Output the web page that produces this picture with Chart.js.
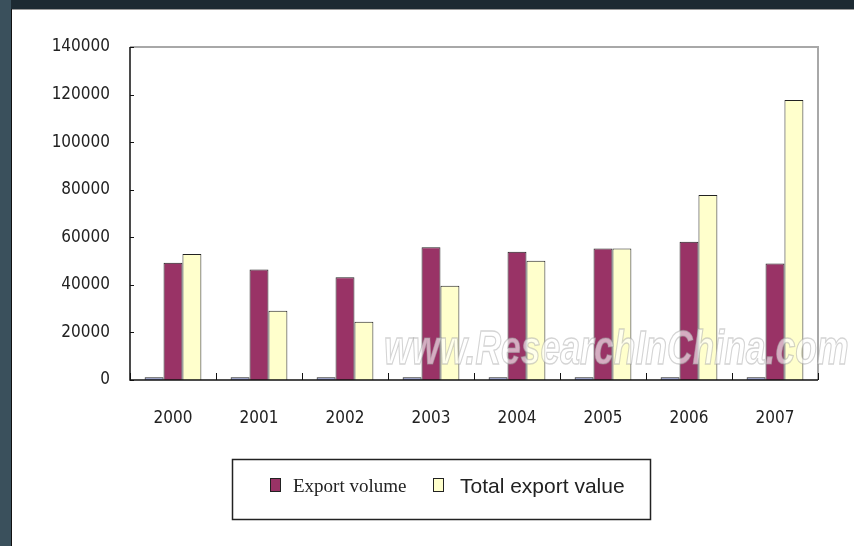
<!DOCTYPE html>
<html>
<head>
<meta charset="utf-8">
<script src="https://cdn.jsdelivr.net/npm/chart.js@4/dist/chart.umd.min.js"></script>
<style>
  html, body { margin: 0; padding: 0; background: #ffffff; }
  #wrap { position: relative; width: 854px; height: 546px; }
  canvas { display: block; }
</style>
</head>
<body>
<div id="wrap"><canvas id="c" width="854" height="546"></canvas></div>
<script>
// ---- data ----
const categories = ['2000', '2001', '2002', '2003', '2004', '2005', '2006', '2007'];
const minorSeries = [1200, 1200, 1200, 1200, 1200, 1200, 1200, 1200];
const exportVolume = [49300, 46500, 43200, 55800, 53900, 55300, 58100, 49000];
const totalExportValue = [53000, 29100, 24500, 39600, 50100, 55300, 77800, 117700];
const yTicks = [0, 20000, 40000, 60000, 80000, 100000, 120000, 140000];
const seriesNames = ['', 'Export volume', 'Total export value'];

const NARROW = '"DejaVu Sans Condensed", "Liberation Sans", sans-serif';

const framePlugin = {
  id: 'frame',
  beforeDraw(chart) {
    const ctx = chart.ctx;
    ctx.save();
    ctx.fillStyle = '#1d2a32';
    ctx.fillRect(0, 0, chart.width, 9);
    ctx.fillStyle = '#3a505c';
    ctx.fillRect(0, 0, 11, chart.height);
    ctx.fillStyle = '#111';
    ctx.fillRect(11, 9, 1, chart.height - 9);
    ctx.fillStyle = '#9a9a9a';
    ctx.fillRect(12, 9, chart.width - 12, 1);
    ctx.restore();
  },
  afterDatasetsDraw(chart) {
    const ctx = chart.ctx;
    const a = chart.chartArea;
    const x = chart.scales.x, y = chart.scales.y;
    ctx.save();
    // plot frame (top & right grey)
    ctx.strokeStyle = '#a8a8a8';
    ctx.lineWidth = 2;
    ctx.beginPath();
    ctx.moveTo(a.left, a.top);
    ctx.lineTo(a.right, a.top);
    ctx.lineTo(a.right, a.bottom);
    ctx.stroke();
    // axes (black)
    ctx.strokeStyle = '#111';
    ctx.lineWidth = 1.5;
    ctx.beginPath();
    ctx.moveTo(a.left, a.top);
    ctx.lineTo(a.left, a.bottom);
    ctx.lineTo(a.right, a.bottom);
    ctx.stroke();
    // inward y ticks
    ctx.lineWidth = 1;
    yTicks.forEach(v => {
      const py = Math.round(y.getPixelForValue(v)) + 0.5;
      ctx.beginPath();
      ctx.moveTo(a.left, py);
      ctx.lineTo(a.left + 4, py);
      ctx.stroke();
    });
    // inward x ticks at category boundaries
    const step = x.getPixelForValue(1) - x.getPixelForValue(0);
    for (let i = 0; i <= categories.length; i++) {
      const px = Math.round(x.getPixelForValue(0) - step / 2 + i * step) + 0.5;
      ctx.beginPath();
      ctx.moveTo(px, a.bottom);
      ctx.lineTo(px, a.bottom - 7);
      ctx.stroke();
    }
    // watermark (condensed horizontally)
    ctx.translate(384, 364);
    ctx.scale(0.74, 1);
    ctx.font = 'italic bold 48px "Liberation Sans", sans-serif';
    ctx.textBaseline = 'alphabetic';
    ctx.textAlign = 'left';
    ctx.lineWidth = 1.4;
    ctx.strokeStyle = 'rgba(160,160,160,0.45)';
    ctx.fillStyle = 'rgba(255,255,255,0.6)';
    ctx.fillText('www.ResearchInChina.com', 0, 0);
    ctx.strokeText('www.ResearchInChina.com', 0, 0);
    ctx.restore();
  },
  afterDraw(chart) {
    // legend box
    const ctx = chart.ctx;
    ctx.save();
    ctx.strokeStyle = '#222';
    ctx.lineWidth = 1.5;
    ctx.strokeRect(232.5, 459.5, 418, 60);
    const ds = chart.data.datasets;
    const items = [
      { d: ds[1], mx: 270, tx: 293, font: '19px "Liberation Serif", serif' },
      { d: ds[2], mx: 433, tx: 460, font: '21px "Liberation Sans", sans-serif' }
    ];
    items.forEach(it => {
      ctx.fillStyle = it.d.backgroundColor;
      ctx.fillRect(it.mx, 478, 10, 13);
      ctx.strokeStyle = '#222';
      ctx.lineWidth = 1;
      ctx.strokeRect(it.mx + 0.5, 478.5, 10, 13);
      ctx.fillStyle = '#222';
      ctx.font = it.font;
      ctx.textBaseline = 'middle';
      ctx.textAlign = 'left';
      ctx.fillText(it.d.label, it.tx, 487);
    });
    ctx.restore();
  }
};

new Chart(document.getElementById('c'), {
  type: 'bar',
  data: {
    labels: categories,
    datasets: [
      { label: seriesNames[0], data: minorSeries, backgroundColor: '#8c94c4', borderColor: '#222', borderWidth: 1 },
      { label: seriesNames[1], data: exportVolume, backgroundColor: '#993366', borderColor: '#222', borderWidth: 1 },
      { label: seriesNames[2], data: totalExportValue, backgroundColor: '#ffffcc', borderColor: '#222', borderWidth: 1 }
    ]
  },
  options: {
    responsive: false,
    animation: false,
    devicePixelRatio: 1,
    layout: { padding: { left: 0, right: 36, top: 47, bottom: 0 } },
    datasets: { bar: { categoryPercentage: 0.66, barPercentage: 1.0 } },
    plugins: { legend: { display: false }, tooltip: { enabled: false } },
    scales: {
      x: {
        grid: { display: false, drawTicks: false },
        border: { display: false },
        ticks: { color: '#222', font: { family: NARROW, size: 17 }, padding: 28, maxRotation: 0 },
        afterFit(s) { s.height = 166; }
      },
      y: {
        min: 0, max: 140000,
        afterBuildTicks(s) { s.ticks = yTicks.map(v => ({ value: v })); },
        grid: { display: false, drawTicks: false },
        border: { display: false },
        ticks: { color: '#222', font: { family: NARROW, size: 17 }, padding: 20, callback: v => String(v) },
        afterFit(s) { s.width = 130; }
      }
    }
  },
  plugins: [framePlugin]
});
</script>
</body>
</html>
